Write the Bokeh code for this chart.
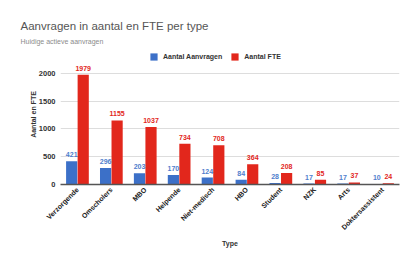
from math import pi
from bokeh.plotting import figure
from bokeh.models import (ColumnDataSource, Title, Legend, LegendItem, FixedTicker, FactorRange)
from bokeh.transform import dodge
from bokeh.core.properties import value
from bokeh.embed import file_html
from bokeh.resources import INLINE

categories = ["Verzorgende", "Omscholers", "MBO", "Helpende", "Niet-medisch",
              "HBO", "Student", "NZK", "Arts", "Doktersassistent"]
aanvragen = [421, 296, 203, 170, 124, 84, 28, 17, 17, 10]
fte = [1979, 1155, 1037, 734, 708, 364, 208, 85, 37, 24]
y_ticks = [0, 500, 1000, 1500, 2000]

BLUE = "#3c70c8"
RED = "#e2271c"
FONT = "Liberation Sans"

src = ColumnDataSource(dict(cat=categories, a=aanvragen, f=fte,
                            at=[str(v) for v in aanvragen], ft=[str(v) for v in fte]))

p = figure(width=405, height=250, x_range=FactorRange(*categories), y_range=(0, 2522),
           output_backend="svg", toolbar_location=None, title=None,
           min_border_left=60, min_border_right=6, min_border_bottom=66, min_border_top=44)

p.add_layout(Title(text="Huidige actieve aanvragen", text_font=FONT, text_font_size="7px",
                   text_color="#8c8c8c", text_font_style="normal", offset=-40, standoff=0), "above")
p.add_layout(Title(text="Aanvragen in aantal en FTE per type", text_font=FONT, text_font_size="11.5px",
                   text_color="#555555", text_font_style="normal", offset=-40, standoff=7), "above")

rb = p.vbar(x=dodge("cat", -0.17, range=p.x_range), top="a", width=0.33, source=src,
            fill_color=BLUE, line_color=None)
rr = p.vbar(x=dodge("cat", 0.17, range=p.x_range), top="f", width=0.33, source=src,
            fill_color=RED, line_color=None)

p.text(x=dodge("cat", -0.17, range=p.x_range), y="a", text="at", source=src,
       text_align="center", text_baseline="bottom", y_offset=-4,
       text_font=value(FONT), text_font_size="7px", text_font_style="bold", text_color="#4f7ecd")
p.text(x=dodge("cat", 0.17, range=p.x_range), y="f", text="ft", source=src,
       text_align="center", text_baseline="bottom", y_offset=-4,
       text_font=value(FONT), text_font_size="7px", text_font_style="bold", text_color=RED)

legend = Legend(items=[LegendItem(label="Aantal Aanvragen", renderers=[rb]),
                       LegendItem(label="Aantal FTE", renderers=[rr])],
                orientation="horizontal", location=(89, 123),
                border_line_color=None, background_fill_alpha=0,
                label_text_font=FONT, label_text_font_size="7px", label_text_font_style="bold",
                label_text_color="#333333", glyph_width=9, glyph_height=9,
                spacing=8, padding=2, margin=0, label_standoff=5)
p.add_layout(legend, "center")

p.yaxis.ticker = FixedTicker(ticks=y_ticks)
p.yaxis.axis_line_color = None
p.yaxis.major_tick_line_color = None
p.yaxis.minor_tick_line_color = None
p.yaxis.major_tick_out = 0
p.yaxis.major_tick_in = 0
p.yaxis.major_label_standoff = 5
p.yaxis.major_label_text_font = FONT
p.yaxis.major_label_text_font_size = "7.5px"
p.yaxis.major_label_text_font_style = "bold"
p.yaxis.major_label_text_color = "#333333"
p.yaxis.axis_label = "Aantal en FTE"
p.yaxis.axis_label_text_font = FONT
p.yaxis.axis_label_text_font_size = "7px"
p.yaxis.axis_label_text_font_style = "bold"
p.yaxis.axis_label_text_color = "#333333"
p.yaxis.axis_label_standoff = -1

p.xaxis.axis_line_color = "#555555"
p.xaxis.axis_line_width = 1.5
p.xaxis.major_tick_line_color = None
p.xaxis.minor_tick_line_color = None
p.xaxis.major_tick_out = 0
p.xaxis.major_tick_in = 0
p.xaxis.major_label_standoff = 4
p.xaxis.major_label_orientation = pi / 4
p.xaxis.major_label_text_font = FONT
p.xaxis.major_label_text_font_size = "7px"
p.xaxis.major_label_text_font_style = "bold"
p.xaxis.major_label_text_color = "#222222"
p.xaxis.axis_label = "Type"
p.xaxis.axis_label_text_font = FONT
p.xaxis.axis_label_text_font_size = "7px"
p.xaxis.axis_label_text_font_style = "bold"
p.xaxis.axis_label_text_color = "#333333"
p.xaxis.axis_label_standoff = 4

p.xgrid.grid_line_color = None
p.ygrid.grid_line_color = "#dddddd"
p.ygrid.ticker = FixedTicker(ticks=y_ticks)
p.outline_line_color = None
p.x_range.range_padding = 0
p.x_range.group_padding = 0

open("out.html", "w").write(file_html(p, INLINE))
